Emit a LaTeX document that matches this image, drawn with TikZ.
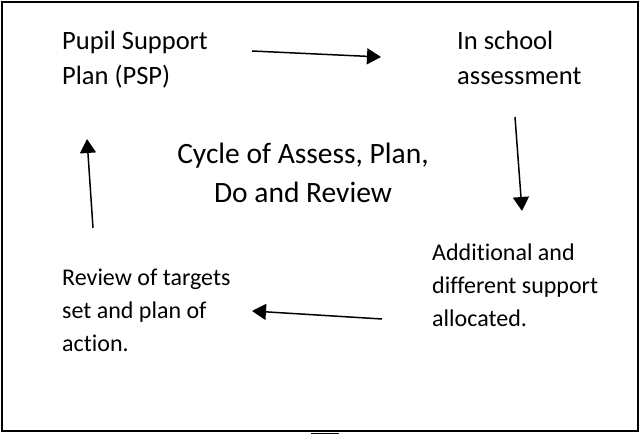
\documentclass[tikz,border=0pt]{standalone}
\usepackage{fontspec}
\setmainfont{Carlito}[Ligatures={NoCommon}]
\usetikzlibrary{arrows.meta}
\tikzset{
  lbl/.style={anchor=base west, align=left, inner sep=0pt, font=\fontsize{26.5}{35}\selectfont},
  lblsm/.style={anchor=base west, align=left, inner sep=0pt, font=\fontsize{24}{33}\selectfont},
  ttl/.style={anchor=base, align=center, inner sep=0pt, font=\fontsize{29.5}{39}\selectfont},
  arr/.style={line width=1.5pt, -{Triangle[length=14pt,width=16pt]}},
  frame/.style={line width=1.5pt}
}
\begin{document}
\begin{tikzpicture}[x=1pt,y=-1pt]
\useasboundingbox (0,0) rectangle (641,435);
\draw[frame] (2,2) rectangle (638,431);
\draw[line width=1pt] (311,434) -- (339,434);
\node[lbl] (psp) at (62,85) {Pupil Support\\Plan (PSP)};
\node[lbl] (isa) at (457,85) {In school\\assessment};
\node[lblsm] (ads) at (432,327) {Additional and\\different support\\allocated.};
\node[lblsm] (rev) at (62,352) {Review of targets\\set and plan of\\action.};
\node[ttl] (cyc) at (303,203) {Cycle of Assess, Plan,\\Do and Review};
\coordinate (a1s) at (252,51);
\coordinate (a1e) at (381,57);
\coordinate (a2s) at (515,117);
\coordinate (a2e) at (522,211);
\coordinate (a3s) at (382,319);
\coordinate (a3e) at (252,311);
\coordinate (a4s) at (93,228);
\coordinate (a4e) at (87,139);
\draw[arr] (a1s) -- (a1e);
\draw[arr] (a2s) -- (a2e);
\draw[arr] (a3s) -- (a3e);
\draw[arr] (a4s) -- (a4e);
\end{tikzpicture}
\end{document}
